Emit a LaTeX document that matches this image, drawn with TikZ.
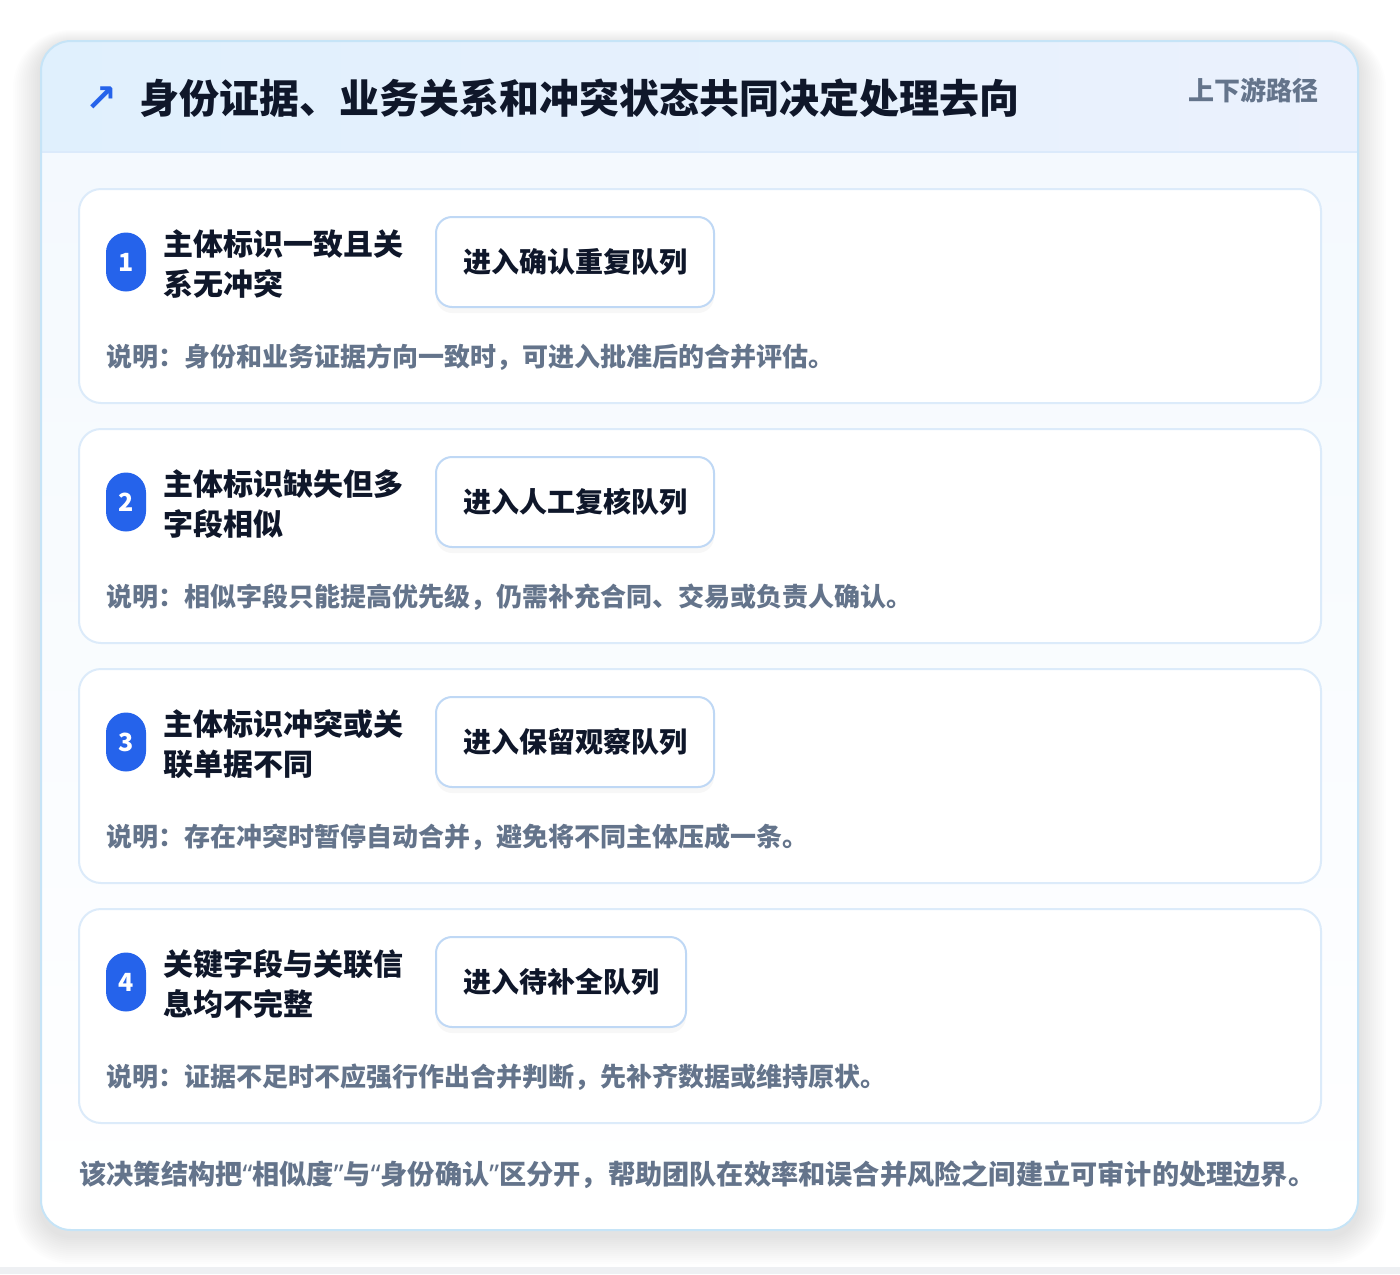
\documentclass[tikz,border=0pt]{standalone}
\usepackage{fontspec}
\usepackage{xcolor}
\usepackage{tikz}
\usetikzlibrary{shadows}
\setmainfont{Noto Sans CJK SC}
\newfontfamily\symfont{DejaVu Sans}
\newfontfamily\quotefont{Noto Sans}

\definecolor{ink}{HTML}{0F172A}
\definecolor{muted}{HTML}{64748B}
\definecolor{badgeblue}{HTML}{2563EB}
\definecolor{outline}{HTML}{C6E4F7}
\definecolor{cardline}{HTML}{DCEBFA}
\definecolor{queueline}{HTML}{BFD8F5}
\definecolor{headleft}{HTML}{E0F0FD}
\definecolor{headright}{HTML}{EBF1FD}
\definecolor{headline}{HTML}{DBEAFB}
\definecolor{bodytop}{HTML}{F4F9FE}
\definecolor{floor}{HTML}{EEF0F3}

\tikzset{
  card/.style={draw=cardline, line width=1pt, fill=white, rounded corners=11pt, minimum width=621pt, minimum height=107pt},
  badge/.style={fill=badgeblue, rounded corners=10pt, minimum width=20pt, minimum height=29.5pt, inner sep=0pt, text=white, font=\bfseries\fontsize{12.5}{14}\selectfont},
  cond/.style={anchor=west, align=left, inner sep=0pt, text=ink, font=\bfseries\fontsize{15}{20}\selectfont},
  queue/.style={anchor=west, draw=queueline, line width=1pt, fill=white, rounded corners=8pt, minimum height=45pt, inner xsep=13.5pt, text=ink, font=\bfseries\fontsize{14}{16}\selectfont, drop shadow={opacity=0.06, shadow xshift=0pt, shadow yshift=-3pt}},
  note/.style={anchor=west, inner sep=0pt, text=muted, font=\bfseries\fontsize{13}{15}\selectfont}
}
\newcommand{\qmark}[1]{{\quotefont #1}}

\begin{document}
\begin{tikzpicture}[x=0.5pt, y=-0.5pt]
    \useasboundingbox[fill=white] (0,0) rectangle (1400,1274);
    \fill[floor] (0,1267) rectangle (1400,1274);
    \foreach \k in {1,...,14}
        \fill[black, opacity=0.006, rounded corners=15pt+\k pt] (41-2*\k,44-\k) rectangle (1358+2*\k,1236+2*\k);

    \begin{scope}
        \clip[rounded corners=15pt] (41,41) rectangle (1358,1230);
        \shade[top color=bodytop, bottom color=white] (41,152) rectangle (1358,1230);
        \shade[left color=headleft, right color=headright] (41,41) rectangle (1358,152);
        \draw[headline, line width=1pt] (41,152) -- (1358,152);
    \end{scope}
    \draw[outline, line width=1pt, rounded corners=15pt] (41,41) rectangle (1358,1230);

    \node[text=badgeblue, font=\symfont\bfseries\fontsize{19}{19}\selectfont] (icon) at (101,99) {↗};
    \node[anchor=west, inner sep=0pt, text=ink, font=\bfseries\fontsize{20}{24}\selectfont] (title) at (139,98) {身份证据、业务关系和冲突状态共同决定处理去向};
    \node[anchor=east, inner sep=0pt, text=muted, font=\bfseries\fontsize{13}{15}\selectfont] (route) at (1319,90) {上下游路径};

    \foreach \i/\cond/\queue/\desc in {
        1/{主体标识一致且关\\系无冲突}/进入确认重复队列/说明：身份和业务证据方向一致时，可进入批准后的合并评估。,
        2/{主体标识缺失但多\\字段相似}/进入人工复核队列/说明：相似字段只能提高优先级，仍需补充合同、交易或负责人确认。,
        3/{主体标识冲突或关\\联单据不同}/进入保留观察队列/说明：存在冲突时暂停自动合并，避免将不同主体压成一条。,
        4/{关键字段与关联信\\息均不完整}/进入待补全队列/说明：证据不足时不应强行作出合并判断，先补齐数据或维持原状。}
    {
        \pgfmathsetmacro\dy{240*(\i-1)}
        \node[card] (card\i) at (700,296+\dy) {};
        \node[badge] (badge\i) at (126,262+\dy) {\i};
        \node[cond] (cond\i) at (163,264+\dy) {\cond};
        \node[queue] (queue\i) at (435,262+\dy) {\queue};
        \node[note] (note\i) at (106,357+\dy) {\desc};
    }

    \node[anchor=west, inner sep=0pt, text=muted, font=\bfseries\fontsize{13.6}{15}\selectfont] (summary) at (79,1175) {该决策结构把\qmark{“}相似度\qmark{”}与\qmark{“}身份确认\qmark{”}区分开，帮助团队在效率和误合并风险之间建立可审计的处理边界。};
\end{tikzpicture}
\end{document}
